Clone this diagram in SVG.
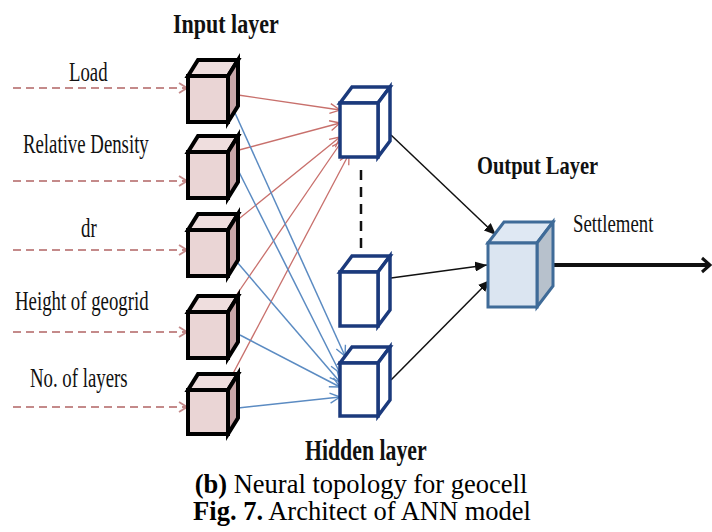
<svg xmlns="http://www.w3.org/2000/svg" width="712" height="532" viewBox="0 0 712 532">
<defs>
<style>
.lbl{font-family:"Liberation Serif","Times New Roman",serif;font-size:18.8px;fill:#111}
.hd{font-family:"Liberation Serif","Times New Roman",serif;font-weight:bold;fill:#111}
.cap{font-family:"Liberation Serif","Times New Roman",serif;font-size:26.5px;fill:#000;text-anchor:middle}
.in .f{fill:#ead5d5}.in .t{fill:#efdede}.in .s{fill:#c9a7a9}
.in polygon,.in rect{stroke:#000;stroke-width:4;stroke-linejoin:miter}
.hid polygon,.hid rect{fill:#fff;stroke:#1b3a7c;stroke-width:3.5}
.out .f{fill:#dbe5f1}.out .t{fill:#dfe8f3}.out .s{fill:#b7c1cc}
.out polygon,.out rect{stroke:#3f6b98;stroke-width:3}
.dash{stroke:#c48a8a;stroke-width:2;stroke-dasharray:8 5;fill:none}
.red{stroke:#c8706c;stroke-width:1.3;fill:none}
.blue{stroke:#5b8bc2;stroke-width:1.5;fill:none}
.blk{stroke:#111;stroke-width:1.5;fill:none}
</style>
<marker id="mDash" markerUnits="userSpaceOnUse" viewBox="0 0 10 12" refX="9" refY="6" markerWidth="10" markerHeight="12" orient="auto"><path d="M1,1 L9,6 L1,11" fill="none" stroke="#c48a8a" stroke-width="1.8"/></marker>
<marker id="mRed" markerUnits="userSpaceOnUse" viewBox="0 0 12 12" refX="11" refY="6" markerWidth="12" markerHeight="12" orient="auto"><path d="M1,1 L11,6 L1,11" fill="none" stroke="#c8706c" stroke-width="1.3"/></marker>
<marker id="mBlue" markerUnits="userSpaceOnUse" viewBox="0 0 12 12" refX="11" refY="6" markerWidth="12" markerHeight="12" orient="auto"><path d="M1,1 L11,6 L1,11" fill="none" stroke="#5b8bc2" stroke-width="1.4"/></marker>
<marker id="mBlk" markerUnits="userSpaceOnUse" viewBox="0 0 12 10" refX="12" refY="5" markerWidth="12" markerHeight="10" orient="auto"><path d="M0,0 L12,5 L0,10 Z" fill="#111"/></marker>
<marker id="mOut" markerUnits="userSpaceOnUse" viewBox="0 0 12 18" refX="10" refY="9" markerWidth="12" markerHeight="18" orient="auto"><path d="M2,2 L10,9 L2,16" fill="none" stroke="#111" stroke-width="3"/></marker>
</defs>
<rect width="712" height="532" fill="#fff"/>

<g id="connectors">
<line class="dash" x1="13" y1="88" x2="187" y2="88" marker-end="url(#mDash)"/>
<line class="dash" x1="13" y1="181" x2="187" y2="181" marker-end="url(#mDash)"/>
<line class="dash" x1="13" y1="250" x2="187" y2="250" marker-end="url(#mDash)"/>
<line class="dash" x1="13" y1="332" x2="187" y2="332" marker-end="url(#mDash)"/>
<line class="dash" x1="13" y1="407" x2="187" y2="407" marker-end="url(#mDash)"/>
<line class="red" x1="238" y1="95" x2="340" y2="110" marker-end="url(#mRed)"/>
<line class="red" x1="239" y1="150" x2="340" y2="123" marker-end="url(#mRed)"/>
<line class="red" x1="235" y1="222" x2="340" y2="137" marker-end="url(#mRed)"/>
<line class="red" x1="233" y1="300" x2="342" y2="141" marker-end="url(#mRed)"/>
<line class="red" x1="228" y1="383" x2="349" y2="154" marker-end="url(#mRed)"/>
<line class="blue" x1="235" y1="113" x2="345" y2="356" marker-end="url(#mBlue)"/>
<line class="blue" x1="238" y1="170" x2="340" y2="373" marker-end="url(#mBlue)"/>
<line class="blue" x1="237" y1="262" x2="340" y2="382" marker-end="url(#mBlue)"/>
<line class="blue" x1="240" y1="335" x2="340" y2="387" marker-end="url(#mBlue)"/>
<line class="blue" x1="238" y1="408" x2="340" y2="397" marker-end="url(#mBlue)"/>
<line x1="361" y1="170" x2="361" y2="252" stroke="#111" stroke-width="2.5" stroke-dasharray="10 7"/>
<line class="blk" x1="391" y1="135" x2="496" y2="235" marker-end="url(#mBlk)"/>
<line class="blk" x1="391" y1="278" x2="487" y2="265" marker-end="url(#mBlk)"/>
<line class="blk" x1="391" y1="380" x2="490" y2="280" marker-end="url(#mBlk)"/>
<line x1="540" y1="265" x2="710" y2="265" stroke="#111" stroke-width="4" marker-end="url(#mOut)"/>
</g>

<g id="in1" class="in">
<polygon class="t" points="188,76 198,60 238,60 228,76"/>
<polygon class="s" points="228,76 238,60 238,106 228,122"/>
<rect class="f" x="188" y="76" width="40" height="46"/>
</g>
<g id="in2" class="in">
<polygon class="t" points="188,152 198,136 238,136 228,152"/>
<polygon class="s" points="228,152 238,136 238,182 228,198"/>
<rect class="f" x="188" y="152" width="40" height="46"/>
</g>
<g id="in3" class="in">
<polygon class="t" points="188,230 198,214 238,214 228,230"/>
<polygon class="s" points="228,230 238,214 238,260 228,276"/>
<rect class="f" x="188" y="230" width="40" height="46"/>
</g>
<g id="in4" class="in">
<polygon class="t" points="188,312 198,296 238,296 228,312"/>
<polygon class="s" points="228,312 238,296 238,342 228,358"/>
<rect class="f" x="188" y="312" width="40" height="46"/>
</g>
<g id="in5" class="in">
<polygon class="t" points="188,390 198,374 238,374 228,390"/>
<polygon class="s" points="228,390 238,374 238,418 228,434"/>
<rect class="f" x="188" y="390" width="40" height="44"/>
</g>

<g id="hid1" class="hid">
<polygon points="340,103 352,87 390,87 378,103"/>
<polygon points="378,103 390,87 390,141 378,157"/>
<rect x="340" y="103" width="38" height="54"/>
</g>
<g id="hid2" class="hid">
<polygon points="340,272 352,256 390,256 378,272"/>
<polygon points="378,272 390,256 390,310 378,326"/>
<rect x="340" y="272" width="38" height="54"/>
</g>
<g id="hid3" class="hid">
<polygon points="340,363 352,347 390,347 378,363"/>
<polygon points="378,363 390,347 390,400 378,416"/>
<rect x="340" y="363" width="38" height="53"/>
</g>

<g id="out" class="out">
<polygon class="t" points="488,243 504,222 553,222 537,243"/>
<polygon class="s" points="537,243 553,222 553,286 537,307"/>
<rect class="f" x="488" y="243" width="49" height="64"/>
</g>

<g id="labels">
<text class="hd" font-size="22" transform="translate(173,33) scale(1,1.25)">Input layer</text>
<text class="lbl" transform="translate(69,81) scale(1,1.4)">Load</text>
<text class="lbl" transform="translate(23,153) scale(1,1.4)">Relative Density</text>
<text class="lbl" transform="translate(81,237) scale(1,1.4)">dr</text>
<text class="lbl" transform="translate(15,310) scale(1,1.4)">Height of geogrid</text>
<text class="lbl" transform="translate(30,387) scale(1,1.4)">No. of layers</text>
<text class="hd" font-size="20.5" transform="translate(477,174) scale(1,1.2)">Output Layer</text>
<text class="lbl" transform="translate(573,232) scale(1,1.3)">Settlement</text>
<text class="hd" font-size="21.8" transform="translate(305,460) scale(1,1.35)">Hidden layer</text>
<text class="cap" x="361" y="493"><tspan font-weight="bold">(b)</tspan> Neural topology for geocell</text>
<text class="cap" x="362" y="520"><tspan font-weight="bold">Fig. 7.</tspan> Architect of ANN model</text>
</g>
</svg>
